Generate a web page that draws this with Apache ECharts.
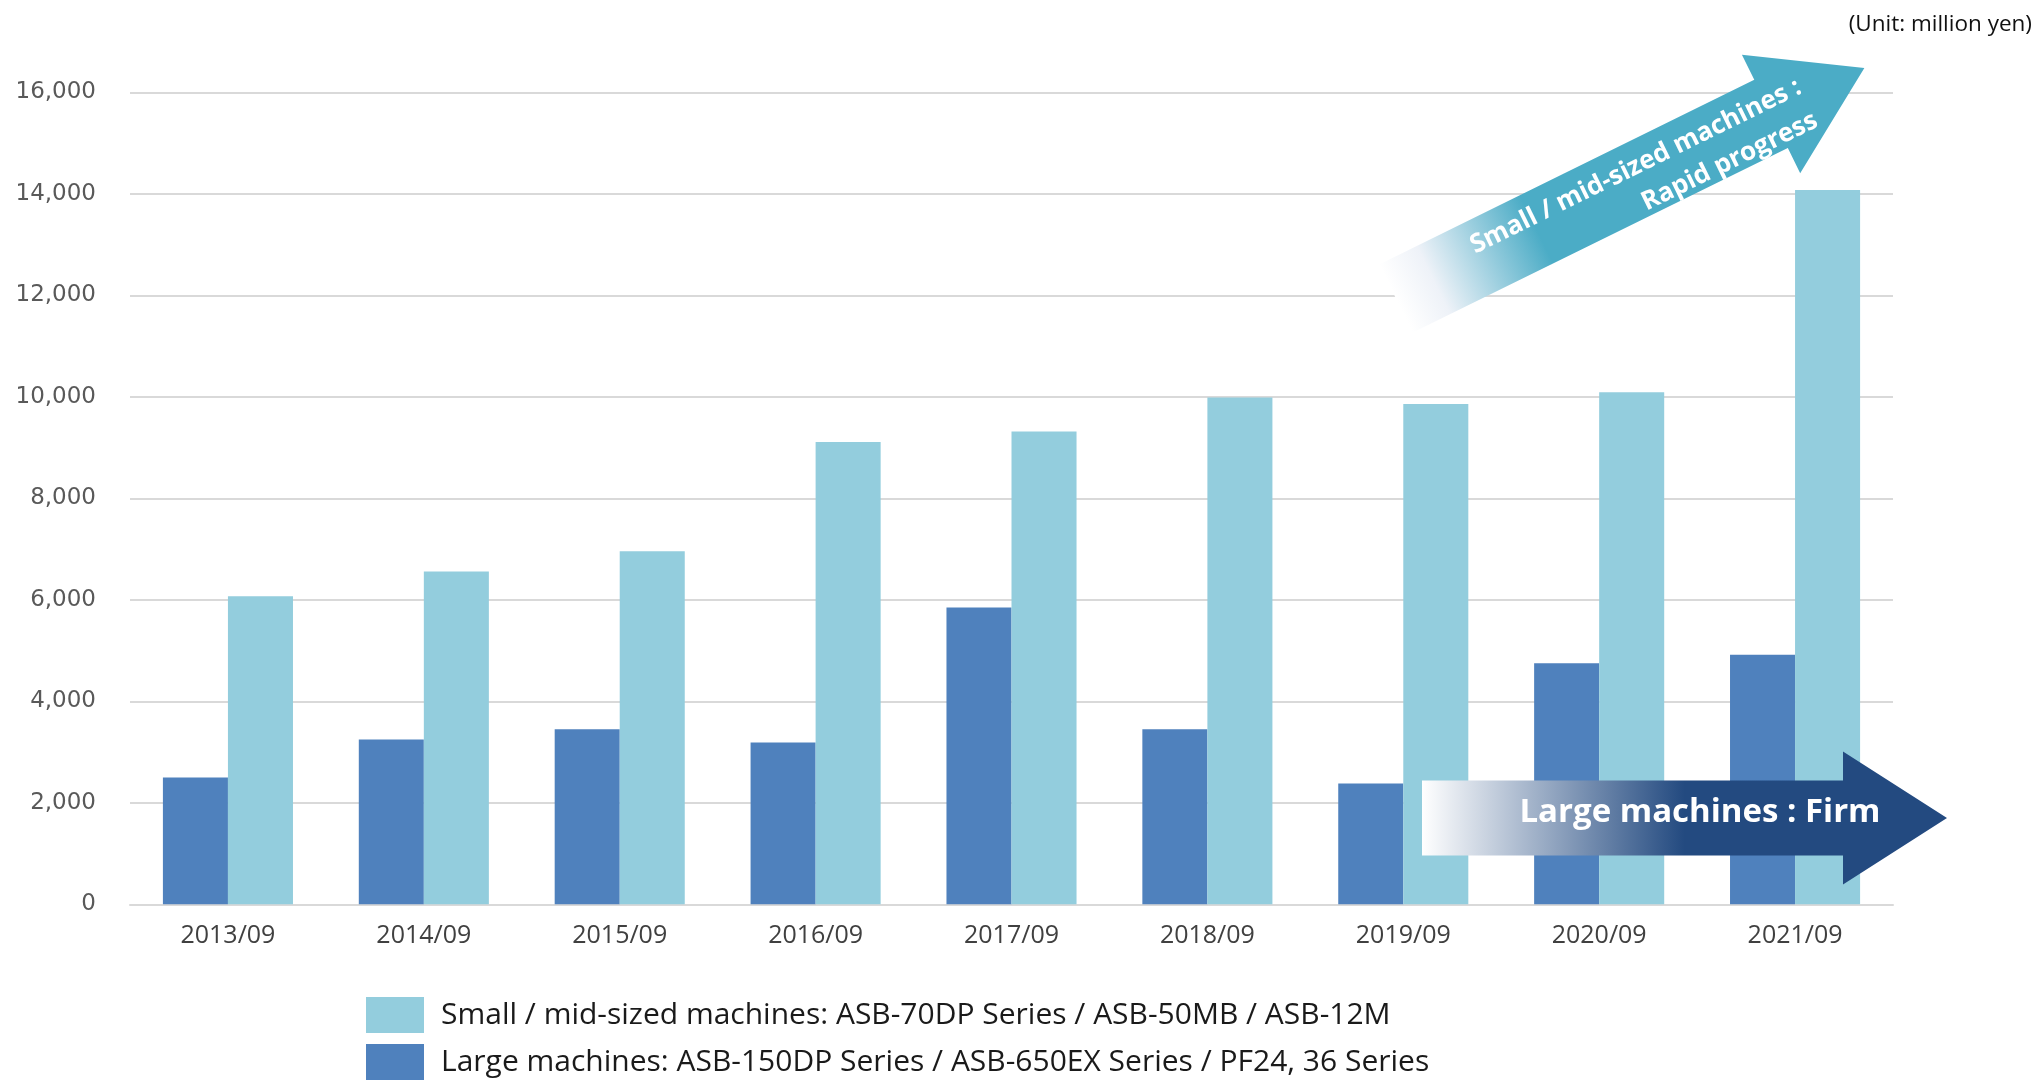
<!DOCTYPE html>
<html>
<head>
<meta charset="utf-8">
<script src="https://cdn.jsdelivr.net/npm/echarts@6/dist/echarts.min.js"></script>
<style>
html,body{margin:0;padding:0;background:#fff;}
#chart{width:2040px;height:1080px;}
</style>
</head>
<body>
<div id="chart"></div>
<script>
const categories = ['2013/09','2014/09','2015/09','2016/09','2017/09','2018/09','2019/09','2020/09','2021/09'];
const largeValues = [2500, 3250, 3450, 3190, 5850, 3450, 2380, 4750, 4920];
const smallValues = [6070, 6560, 6960, 9110, 9320, 9990, 9860, 10090, 14080];
const yTicks = [0, 2000, 4000, 6000, 8000, 10000, 12000, 14000, 16000];
const smallName = 'Small / mid-sized machines: ASB-70DP Series / ASB-50MB / ASB-12M';
const largeName = 'Large machines: ASB-150DP Series / ASB-650EX Series / PF24, 36 Series';
const unitLabel = '(Unit: million yen)';
const smallArrowText = 'Small / mid-sized machines :\nRapid progress';
const largeArrowText = 'Large machines : Firm';

const chart = echarts.init(document.getElementById('chart'));
const ang = 0.4573;
const option = {
  animation: false,
  backgroundColor: '#ffffff',
  title: {
    text: unitLabel, right: 3, top: 8,
    textStyle: {fontFamily: 'Open Sans', fontSize: 22.5, fontWeight: 'normal', color: '#111'}
  },
  grid: {left: 130, right: 147, top: 92.5, bottom: 175.7, containLabel: false},
  legend: {
    orient: 'vertical', left: 366, top: 997, padding: 0,
    itemWidth: 58, itemHeight: 36, itemGap: 11, icon: 'rect',
    data: [smallName, largeName],
    textStyle: {fontFamily: 'Open Sans', fontSize: 30, color: '#1a1a1a', padding: [0, 0, 0, 12]}
  },
  xAxis: {
    type: 'category', data: categories,
    axisTick: {show: false},
    axisLine: {lineStyle: {color: '#D9D9D9', width: 2}},
    axisLabel: {fontFamily: 'Open Sans', fontSize: 25, color: '#404040', margin: 19}
  },
  yAxis: {
    type: 'value', min: yTicks[0], max: yTicks[yTicks.length - 1], interval: 2000,
    axisLine: {show: false}, axisTick: {show: false},
    splitLine: {lineStyle: {color: '#D9D9D9', width: 2}},
    axisLabel: {fontFamily: 'DejaVu Sans', fontSize: 23, color: '#595959', margin: 34,
      padding: [6, 0, 0, 0],
      formatter: v => v.toLocaleString('en-US')}
  },
  series: [
    {name: largeName, type: 'bar', data: largeValues, barGap: '0%', barCategoryGap: '33.6%',
      itemStyle: {color: '#4F81BD'}},
    {name: smallName, type: 'bar', data: smallValues, barGap: '0%', barCategoryGap: '33.6%',
      itemStyle: {color: '#93CDDD'}}
  ],
  graphic: [
    {
      type: 'group', x: 1396, y: 298.5, rotation: ang, z: 100,
      children: [
        {type: 'polygon', z: 100,
          shape: {points: [[0,-38],[418,-38],[418,-66],[522,0],[418,66],[418,38],[0,38]]},
          style: {fill: {type: 'linear', x: 0, y: 0, x2: 1, y2: 0,
            colorStops: [{offset: 0, color: '#ffffff'}, {offset: 0.08, color: '#eef2f8'}, {offset: 0.3, color: '#4BACC6'}, {offset: 1, color: '#4BACC6'}]}}},
        {type: 'text', z: 101,
          style: {text: smallArrowText, x: 456, y: 6, fill: '#ffffff',
            fontFamily: 'Open Sans', fontSize: 26, fontWeight: 'bold',
            align: 'right', verticalAlign: 'middle', textAlign: 'right', textVerticalAlign: 'middle', lineHeight: 37}}
      ]
    },
    {
      type: 'group', x: 1422, y: 818, z: 100,
      children: [
        {type: 'polygon', z: 100,
          shape: {points: [[0,-37.5],[421,-37.5],[421,-66.5],[525,0],[421,66.5],[421,37.5],[0,37.5]]},
          style: {fill: {type: 'linear', x: 0, y: 0, x2: 1, y2: 0,
            colorStops: [{offset: 0, color: '#ffffff'}, {offset: 0.5, color: '#234A80'}, {offset: 1, color: '#234A80'}]}}},
        {type: 'text', z: 101,
          style: {text: largeArrowText, x: 278, y: -5, fill: '#ffffff',
            fontFamily: 'Open Sans', fontSize: 33, fontWeight: 'bold',
            align: 'center', verticalAlign: 'middle', textAlign: 'center', textVerticalAlign: 'middle'}}
      ]
    }
  ]
};
chart.setOption(option);
</script>
</body>
</html>
